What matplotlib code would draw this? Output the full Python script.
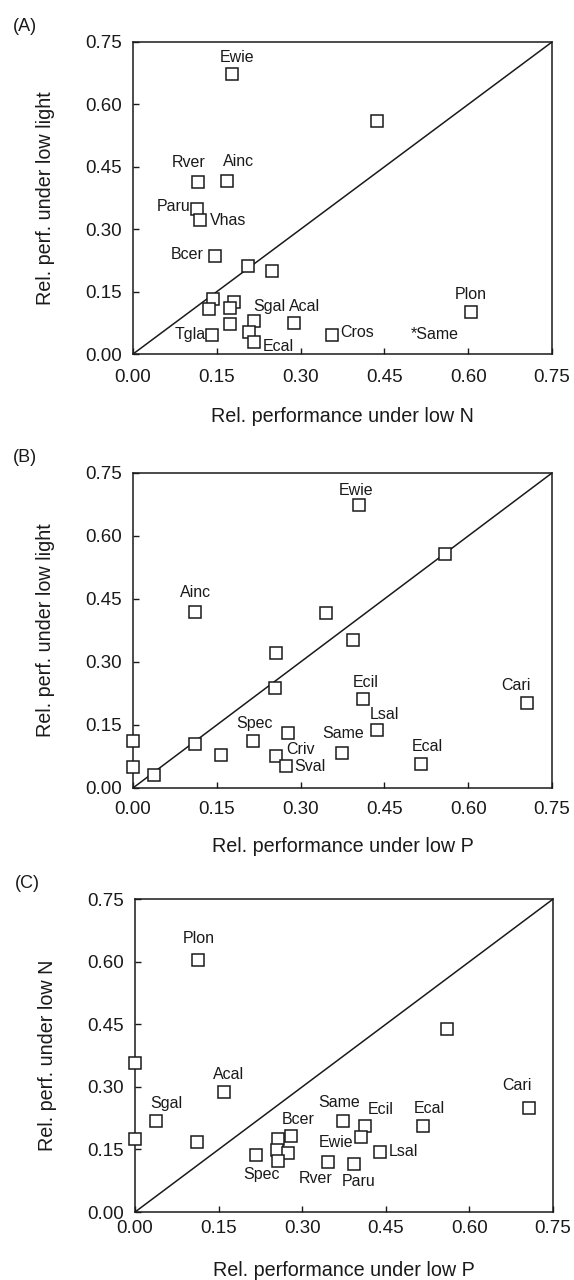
import numpy as np
import matplotlib.pyplot as plt

plt.rcParams['font.family'] = ['Liberation Sans', 'DejaVu Sans']

# (A) low light vs low N
names_a = ['Ewie', '', 'Rver', 'Ainc', 'Paru', 'Vhas', 'Bcer', '', '', '', '', '', '',
           'Sgal', 'Acal', '', 'Tgla', '', 'Ecal', 'Cros', 'Plon']
x_a = [0.178, 0.437, 0.117, 0.169, 0.115, 0.120, 0.146, 0.206, 0.249, 0.143, 0.181,
       0.136, 0.174, 0.217, 0.288, 0.173, 0.142, 0.207, 0.216, 0.356, 0.605]
y_a = [0.674, 0.559, 0.414, 0.416, 0.349, 0.321, 0.235, 0.211, 0.200, 0.133, 0.125,
       0.109, 0.111, 0.080, 0.075, 0.072, 0.046, 0.052, 0.028, 0.046, 0.101]
note_a = ('*Same', 0.541, 0.046)

# (B) low light vs low P
names_b = ['Ewie', '', 'Ainc', '', '', '', '', 'Ecil', 'Cari', 'Lsal', '', 'Spec', '',
           '', '', 'Same', 'Criv', '', 'Sval', 'Ecal', '']
x_b = [0.405, 0.559, 0.111, 0.345, 0.393, 0.256, 0.254, 0.411, 0.706, 0.437, 0.278,
       0.214, 0.000, 0.111, 0.158, 0.374, 0.256, 0.000, 0.274, 0.515, 0.037]
y_b = [0.673, 0.558, 0.418, 0.417, 0.352, 0.321, 0.238, 0.213, 0.202, 0.137, 0.130,
       0.112, 0.113, 0.105, 0.078, 0.084, 0.075, 0.050, 0.052, 0.056, 0.032]

# (C) low N vs low P
names_c = ['Plon', '', '', 'Acal', 'Cari', 'Sgal', 'Same', 'Ecil', 'Ecal', 'Bcer', '',
           '', '', 'Ewie', '', '', 'Lsal', 'Spec', '', 'Rver', 'Paru']
x_c = [0.113, 0.559, 0.000, 0.159, 0.707, 0.038, 0.374, 0.413, 0.516, 0.279, 0.256,
       0.000, 0.112, 0.405, 0.255, 0.275, 0.439, 0.217, 0.257, 0.347, 0.392]
y_c = [0.605, 0.439, 0.356, 0.288, 0.250, 0.217, 0.219, 0.207, 0.207, 0.182, 0.174,
       0.175, 0.169, 0.179, 0.148, 0.142, 0.144, 0.137, 0.122, 0.119, 0.115]

ticks = [0.00, 0.15, 0.30, 0.45, 0.60, 0.75]
tick_labels = ['0.00', '0.15', '0.30', '0.45', '0.60', '0.75']

# label placement (offset pixels from marker, horizontal alignment)
lab_a = {'Ewie': (5, 16, 'center'), 'Rver': (-10, 19, 'center'), 'Ainc': (11, 19, 'center'),
         'Paru': (-7, 2, 'right'), 'Vhas': (10, 0, 'left'), 'Bcer': (-11, 2, 'right'),
         'Sgal': (15, 14, 'center'), 'Acal': (11, 16, 'center'), 'Tgla': (-7, 0, 'right'),
         'Ecal': (9, -4, 'left'), 'Cros': (8, 2, 'left'), 'Plon': (0, 18, 'center')}
lab_b = {'Ewie': (-3, 15, 'center'), 'Ainc': (1, 20, 'center'), 'Ecil': (3, 16, 'center'),
         'Cari': (-11, 18, 'center'), 'Lsal': (7, 16, 'center'), 'Spec': (2, 17, 'center'),
         'Same': (1, 19, 'center'), 'Criv': (10, 7, 'left'), 'Sval': (8, 0, 'left'),
         'Ecal': (7, 18, 'center')}
lab_c = {'Plon': (1, 21, 'center'), 'Acal': (5, 17, 'center'), 'Cari': (-12, 22, 'center'),
         'Sgal': (10, 18, 'center'), 'Same': (-4, 18, 'center'), 'Ecil': (15, 16, 'center'),
         'Ecal': (7, 17, 'center'), 'Bcer': (8, 17, 'center'), 'Ewie': (-7, -5, 'right'),
         'Lsal': (9, 0, 'left'), 'Spec': (6, -20, 'center'), 'Rver': (-13, -16, 'center'),
         'Paru': (5, -17, 'center')}

ink = '#1a1a1a'

fig = plt.figure(figsize=(5.74, 12.8), dpi=100)
axes_pos = [[0.2317, 0.7234, 0.7300, 0.2438],
            [0.2317, 0.3844, 0.7300, 0.2461],
            [0.2352, 0.0531, 0.7283, 0.2445]]
# per panel: x tick pad (pt), x label y (axes fraction)
xpads = [10.8, 9.4, 5.8]
xlab_y = [-0.170, -0.156, -0.157]

panels = [
    ('(A)', names_a, x_a, y_a, lab_a, 'Rel. performance under low N', 'Rel. perf. under low light'),
    ('(B)', names_b, x_b, y_b, lab_b, 'Rel. performance under low P', 'Rel. perf. under low light'),
    ('(C)', names_c, x_c, y_c, lab_c, 'Rel. performance under low P', 'Rel. perf. under low N'),
]

for pos, xpad, xly, (tag, names, xs, ys, labs, xlab, ylab) in zip(axes_pos, xpads, xlab_y, panels):
    ax = fig.add_axes(pos)
    ax.set_xlim(0, 0.75)
    ax.set_ylim(0, 0.75)
    ax.plot([0, 0.75], [0, 0.75], color=ink, lw=1.1, zorder=1)
    ax.plot(xs, ys, 's', ms=9.2, mfc='white', mec=ink, mew=1.1, zorder=3, clip_on=False)
    for name, x, y in zip(names, xs, ys):
        if name:
            dx, dy, ha = labs[name]
            ax.annotate(name, (x, y), xytext=(dx, dy), textcoords='offset pixels',
                        ha=ha, va='center', fontsize=11.5, color=ink, zorder=4)
    ax.set_xticks(ticks)
    ax.set_xticklabels(tick_labels)
    ax.set_yticks(ticks)
    ax.set_yticklabels(tick_labels)
    ax.tick_params(direction='in', length=4, width=1, labelsize=13.5, colors=ink)
    ax.tick_params(axis='x', pad=xpad)
    ax.tick_params(axis='y', pad=8)
    for sp in ax.spines.values():
        sp.set_linewidth(1.1)
        sp.set_color(ink)
    ax.set_xlabel(xlab, fontsize=14.2, color=ink)
    ax.set_ylabel(ylab, fontsize=14.2, color=ink)
    ax.xaxis.set_label_coords(0.5, xly)
    ax.yaxis.set_label_coords(-0.187, 0.5)
    ax.text(-0.258, 1.05, tag, transform=ax.transAxes, fontsize=13, color=ink,
            ha='center', va='center')
    if tag == '(A)':
        ax.text(note_a[1], note_a[2], note_a[0], fontsize=11.5, color=ink,
                ha='center', va='center')

fig.savefig('out.png', dpi=100, facecolor='white')
